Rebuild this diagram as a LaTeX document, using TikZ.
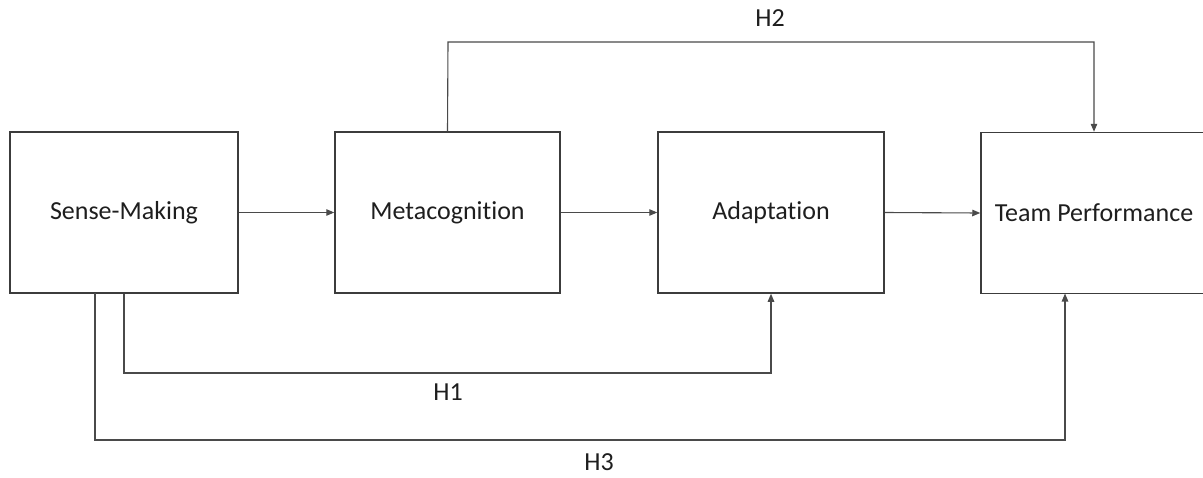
\documentclass[tikz,border=0pt]{standalone}
\usepackage{fontspec}
\setmainfont{Carlito}[Ligatures=NoCommon]
\usetikzlibrary{arrows.meta}
\definecolor{boxline}{HTML}{3C3C3C}
\definecolor{conline}{HTML}{4A4A4A}
\definecolor{txt}{HTML}{1E1E1E}
\begin{document}
\begin{tikzpicture}[x=1pt,y=-1pt,
  box/.style={draw=boxline,line width=1.5pt,minimum height=161pt,inner sep=0pt,
    font=\fontsize{26}{30}\selectfont,text=txt},
  conn/.style={draw=conline,line width=1.1pt,-{Triangle[length=8pt,width=6.5pt]}},
  lbl/.style={font=\fontsize{26}{30}\selectfont,text=txt,inner sep=0pt}]
\useasboundingbox (0,0) rectangle (1203,477);
\clip (0,0) rectangle (1203,477);
\node[box,minimum width=228pt] (sm) at (124,212.5) {Sense-Making};
\node[box,minimum width=225pt] (mc) at (447.5,212.5) {Metacognition};
\node[box,minimum width=226pt] (ad) at (771,212.5) {Adaptation};
\node[box,minimum width=226pt] (tp) at (1094,213) {Team Performance};
\coordinate (h2a) at (448,42);
\coordinate (h2b) at (1094,42);
\coordinate (h1a) at (124,373);
\coordinate (h1b) at (771,373);
\coordinate (h3s) at (95,293);
\coordinate (h3a) at (95,440);
\coordinate (h3b) at (1065,440);
\coordinate (h3e) at (1065,293.5);
\draw[conn] (sm.east) -- (mc.west);
\draw[conn] (mc.east) -- (ad.west);
\draw[conn] (ad.east) -- (tp.west);
\draw[conn] (mc.north) -- (h2a) -- (h2b) -- (tp.north);
\draw[conn] (sm.south) -- (h1a) -- (h1b) -- (ad.south);
\draw[conn] (h3s) -- (h3a) -- (h3b) -- (h3e);
\node[lbl] (l2) at (770,18.5) {H2};
\node[lbl] (l1) at (448,392) {H1};
\node[lbl] (l3) at (599,462) {H3};
\end{tikzpicture}
\end{document}
